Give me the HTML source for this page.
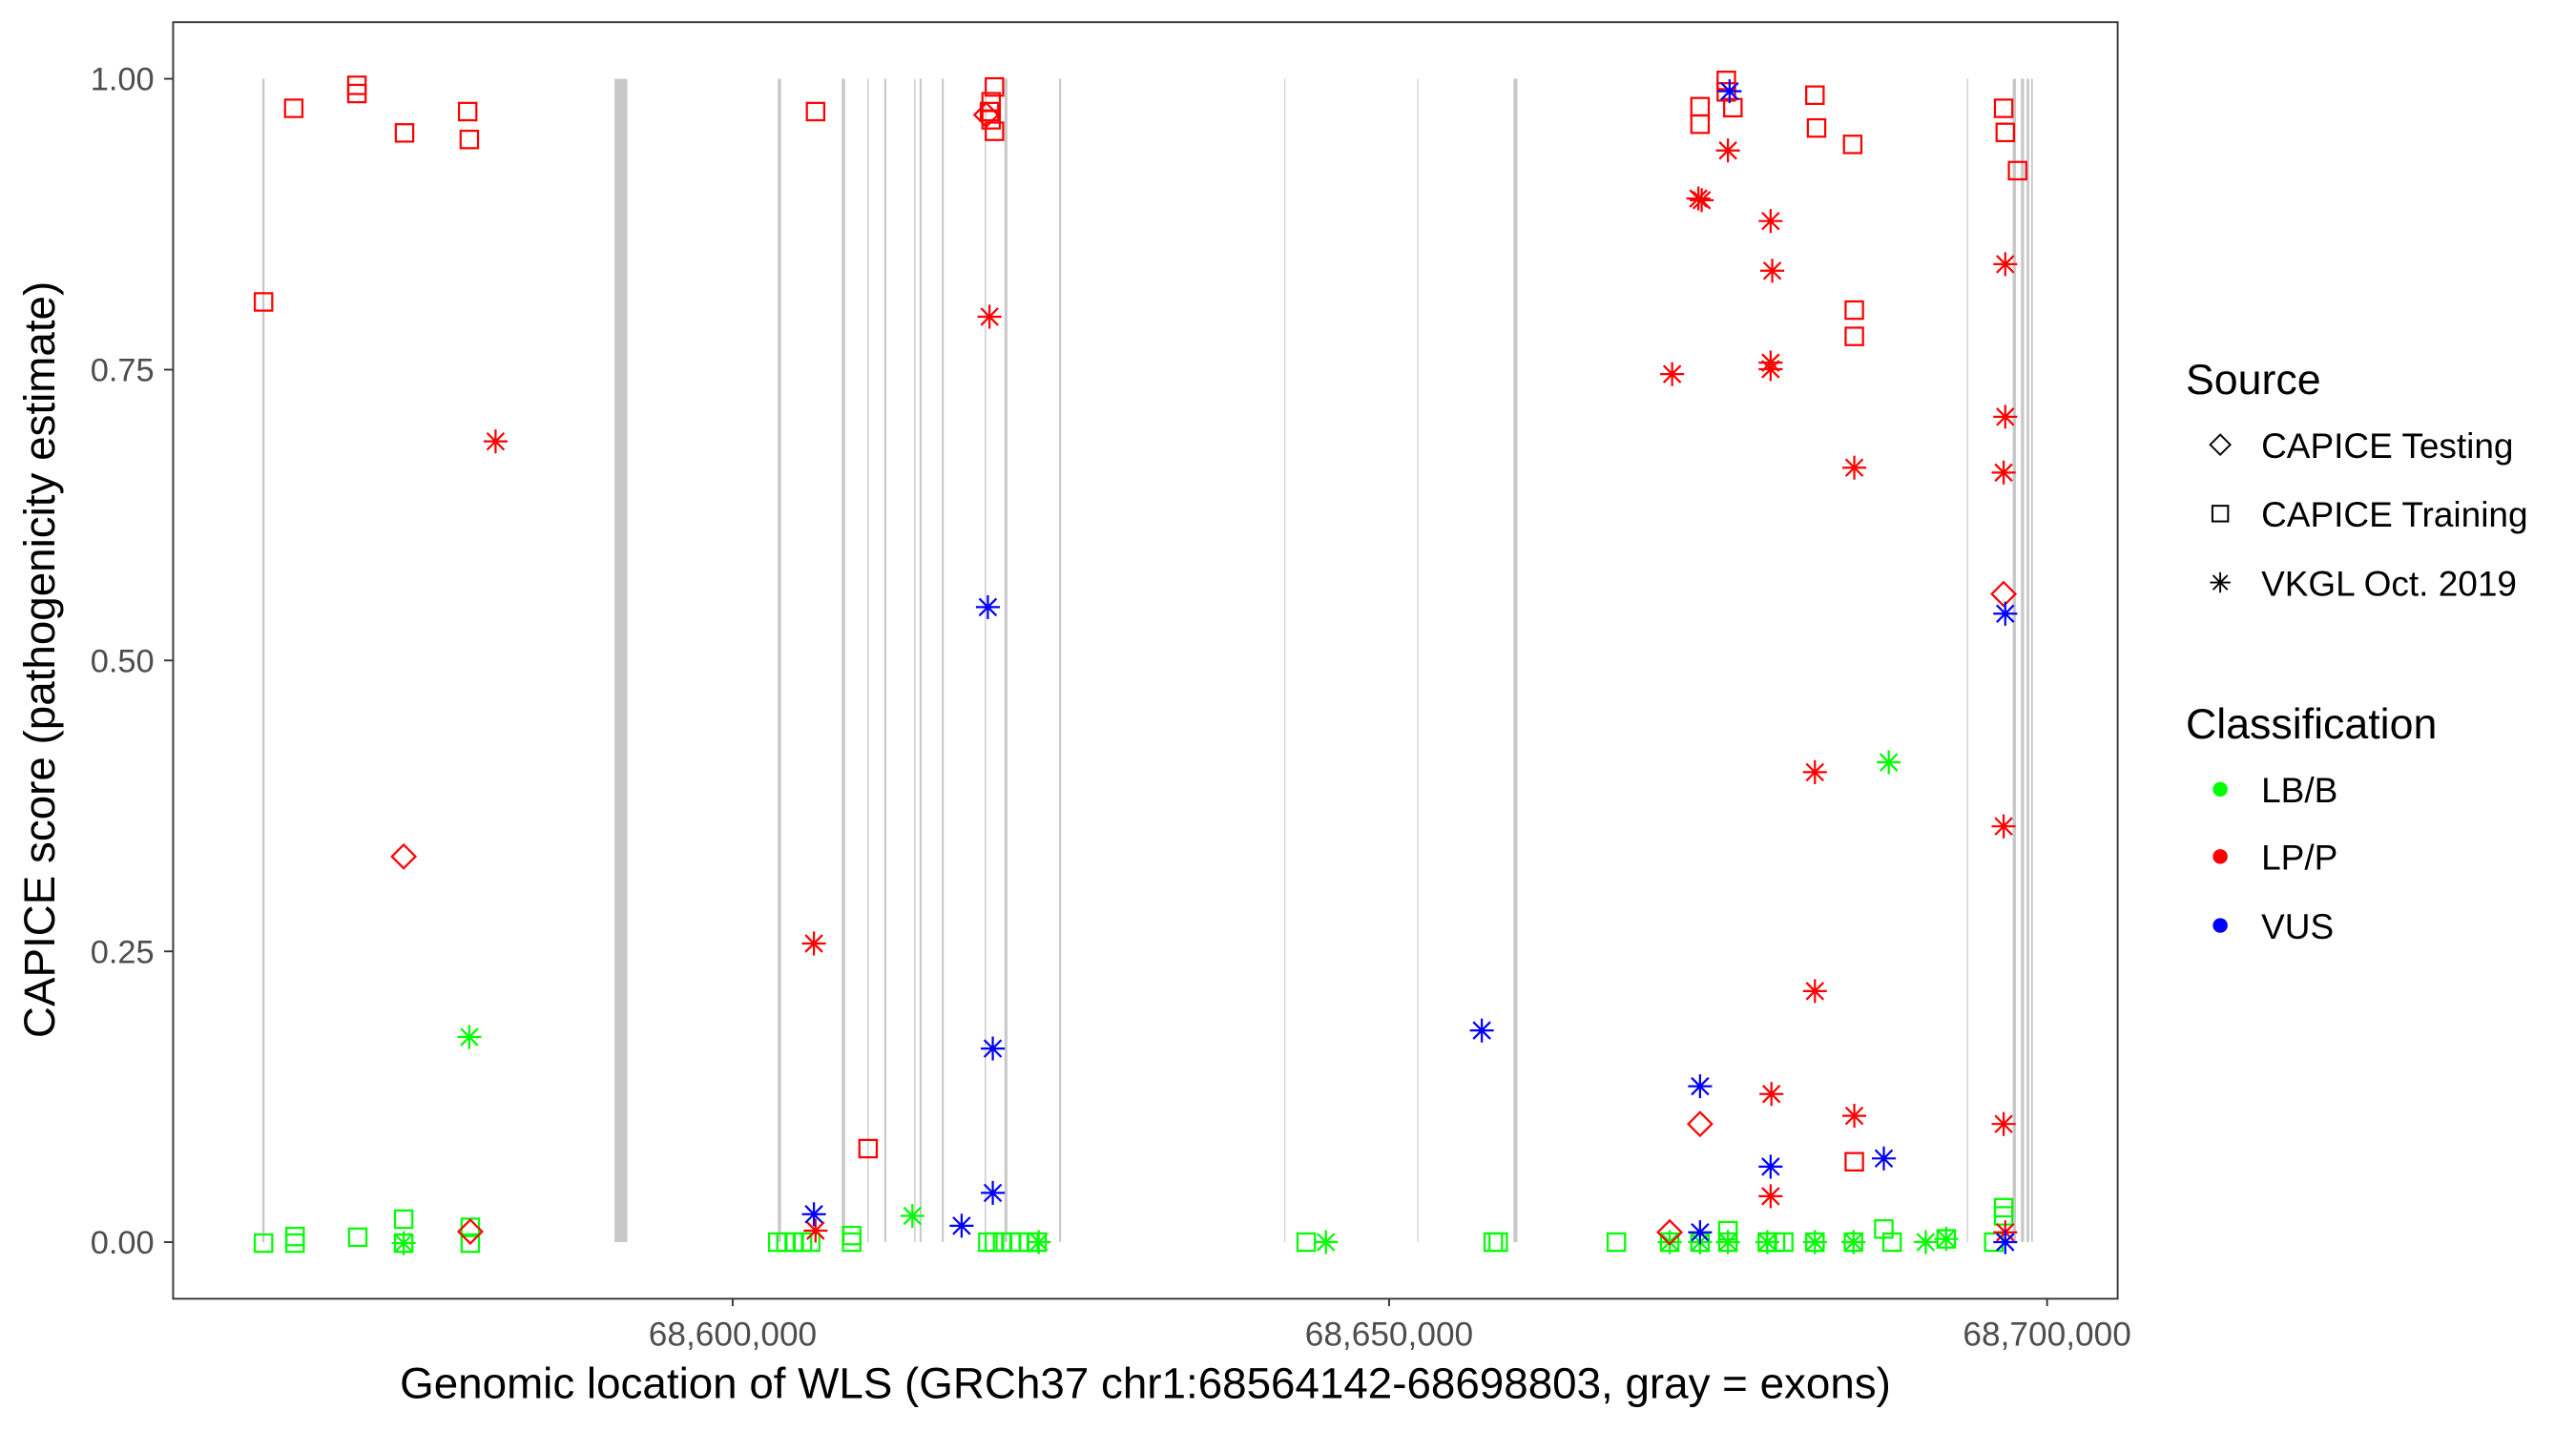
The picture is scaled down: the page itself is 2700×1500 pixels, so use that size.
<!DOCTYPE html>
<html><head><meta charset="utf-8"><style>
html,body{margin:0;padding:0;background:#fff;}
svg{display:block;}
</style></head><body>
<svg width="2700" height="1500" viewBox="0 0 1569.8 872.1" preserveAspectRatio="none" xmlns="http://www.w3.org/2000/svg" font-family="Liberation Sans, sans-serif">
<defs>
<g id="s"><rect x="-5.3" y="-5.3" width="10.6" height="10.6" fill="none" stroke-width="1.3"/></g>
<g id="d"><path d="M0,-7.2 L7.2,0 L0,7.2 L-7.2,0 Z" fill="none" stroke-width="1.3"/></g>
<g id="a"><path d="M0,-7.3V7.3M-7.3,0H7.3M-5.2,-5.2L5.2,5.2M-5.2,5.2L5.2,-5.2" fill="none" stroke-width="1.3"/></g>
</defs>
<rect x="0" y="0" width="1570" height="873" fill="#fff"/>
<g stroke="#c8c8c8" fill="none">
<line x1="160.5" y1="48" x2="160.5" y2="757" stroke-width="1.4"/>
<rect x="374.5" y="48" width="7.8" height="709" fill="#c8c8c8" stroke="none"/>
<line x1="475" y1="48" x2="475" y2="757" stroke-width="2"/>
<line x1="514" y1="48" x2="514" y2="757" stroke-width="2"/>
<line x1="529" y1="48" x2="529" y2="757" stroke-width="0.8"/>
<line x1="539.5" y1="48" x2="539.5" y2="757" stroke-width="1.2"/>
<line x1="557.5" y1="48" x2="557.5" y2="757" stroke-width="0.8"/>
<line x1="561" y1="48" x2="561" y2="757" stroke-width="1.2"/>
<line x1="574.5" y1="48" x2="574.5" y2="757" stroke-width="1.2"/>
<line x1="600.5" y1="48" x2="600.5" y2="757" stroke-width="0.8"/>
<line x1="613" y1="48" x2="613" y2="757" stroke-width="1.8"/>
<line x1="646" y1="48" x2="646" y2="757" stroke-width="1.2"/>
<line x1="783" y1="48" x2="783" y2="757" stroke-width="0.6"/>
<line x1="864" y1="48" x2="864" y2="757" stroke-width="0.6"/>
<line x1="923.5" y1="48" x2="923.5" y2="757" stroke-width="2.4"/>
<line x1="1199" y1="48" x2="1199" y2="757" stroke-width="0.7"/>
<line x1="1227.5" y1="48" x2="1227.5" y2="757" stroke-width="2"/>
<line x1="1232.5" y1="48" x2="1232.5" y2="757" stroke-width="2"/>
<line x1="1235.8" y1="48" x2="1235.8" y2="757" stroke-width="1.6"/>
<line x1="1238.3" y1="48" x2="1238.3" y2="757" stroke-width="1"/>
</g>
<g stroke="#00ff00">
<use href="#s" x="160.6" y="757.6"/><use href="#s" x="179.8" y="753.6"/><use href="#s" x="179.8" y="757.6"/>
<use href="#s" x="218" y="754"/><use href="#s" x="246" y="743"/><use href="#s" x="246" y="757.6"/><use href="#a" x="246" y="757.6"/>
<use href="#s" x="286.6" y="748"/><use href="#s" x="286.6" y="757.6"/>
<use href="#a" x="286" y="632"/>
<use href="#s" x="474" y="757"/><use href="#s" x="479" y="757"/><use href="#s" x="484" y="757"/><use href="#s" x="489" y="757"/><use href="#s" x="494" y="757"/>
<use href="#s" x="519" y="753"/><use href="#s" x="519" y="757"/>
<use href="#a" x="556" y="741"/>
<use href="#s" x="602" y="757"/><use href="#s" x="606" y="757"/><use href="#s" x="611" y="757"/><use href="#s" x="616" y="757"/><use href="#s" x="621" y="757"/><use href="#s" x="627" y="757"/><use href="#s" x="632" y="757"/><use href="#a" x="633" y="757"/>
<use href="#s" x="796" y="757"/><use href="#a" x="808" y="757"/>
<use href="#s" x="910" y="757"/><use href="#s" x="913" y="757"/>
<use href="#s" x="985" y="757"/>
<use href="#s" x="1017.5" y="757"/><use href="#a" x="1017.5" y="757"/>
<use href="#s" x="1036" y="757"/><use href="#a" x="1036" y="757"/>
<use href="#s" x="1053" y="750"/><use href="#s" x="1053" y="757"/><use href="#a" x="1053" y="757"/>
<use href="#s" x="1077" y="757"/><use href="#s" x="1082" y="757"/><use href="#s" x="1087" y="757"/><use href="#a" x="1077" y="757"/>
<use href="#s" x="1106" y="757"/><use href="#a" x="1106" y="757"/>
<use href="#s" x="1129.5" y="757"/><use href="#a" x="1129.5" y="757"/>
<use href="#s" x="1148" y="749"/><use href="#s" x="1153" y="757"/>
<use href="#a" x="1151" y="464.6"/>
<use href="#a" x="1173.5" y="757"/><use href="#a" x="1186" y="755"/><use href="#s" x="1186" y="755"/>
<use href="#s" x="1215" y="757"/>
<use href="#s" x="1221" y="736"/><use href="#s" x="1221" y="741"/>
</g>
<g stroke="#ff0000">
<use href="#s" x="160.6" y="184"/><use href="#s" x="179" y="66"/><use href="#s" x="217.5" y="52"/><use href="#s" x="217.5" y="57"/>
<use href="#s" x="246.5" y="81"/><use href="#s" x="285" y="68"/><use href="#s" x="286" y="85"/>
<use href="#d" x="246" y="522"/><use href="#d" x="286.6" y="750.6"/><use href="#a" x="302" y="269"/>
<use href="#s" x="497" y="68"/><use href="#a" x="496" y="575"/><use href="#a" x="497" y="750"/>
<use href="#s" x="529" y="700"/>
<use href="#s" x="606" y="53"/><use href="#s" x="604" y="62"/><use href="#s" x="603" y="68"/><use href="#s" x="604" y="73"/><use href="#s" x="606" y="80"/><use href="#d" x="601" y="70"/>
<use href="#a" x="603" y="193"/>
<use href="#s" x="1052" y="49"/><use href="#s" x="1052" y="56"/><use href="#s" x="1056" y="65.6"/>
<use href="#s" x="1036" y="65"/><use href="#s" x="1036" y="75.7"/>
<use href="#a" x="1053" y="91.7"/><use href="#a" x="1035" y="121"/><use href="#a" x="1037" y="122"/>
<use href="#a" x="1079" y="134.7"/><use href="#a" x="1080" y="165"/><use href="#a" x="1019" y="228"/>
<use href="#a" x="1079" y="221"/><use href="#a" x="1079" y="225"/>
<use href="#s" x="1106" y="58"/><use href="#s" x="1107" y="78"/><use href="#s" x="1129" y="88"/>
<use href="#s" x="1130" y="189"/><use href="#s" x="1130" y="205"/><use href="#a" x="1130" y="285"/>
<use href="#s" x="1221" y="66"/><use href="#s" x="1222" y="80.7"/><use href="#s" x="1229.5" y="104"/>
<use href="#a" x="1222" y="161"/><use href="#a" x="1222" y="254"/><use href="#a" x="1221" y="288"/>
<use href="#d" x="1221" y="362"/>
<use href="#a" x="1106" y="470.6"/><use href="#a" x="1221" y="503.6"/><use href="#a" x="1106" y="604"/>
<use href="#d" x="1036" y="685"/><use href="#a" x="1079.5" y="666.7"/><use href="#a" x="1130" y="680"/><use href="#a" x="1221" y="685"/>
<use href="#s" x="1130" y="708"/><use href="#a" x="1079" y="729"/>
<use href="#d" x="1017.5" y="751"/><use href="#a" x="1222" y="751"/>
</g>
<g stroke="#0000ff">
<use href="#a" x="496" y="740"/><use href="#a" x="586" y="747"/>
<use href="#a" x="602" y="370"/><use href="#a" x="605" y="639"/><use href="#a" x="605" y="727"/>
<use href="#a" x="903" y="628"/>
<use href="#a" x="1054" y="55.6"/><use href="#a" x="1222" y="374"/>
<use href="#a" x="1036" y="662"/><use href="#a" x="1148" y="706"/><use href="#a" x="1079" y="711"/>
<use href="#a" x="1036" y="751"/><use href="#a" x="1222" y="757"/>
</g>
<rect x="105.5" y="13.5" width="1185" height="778" fill="none" stroke="#333" stroke-width="1.1"/>
<g stroke="#333" stroke-width="1.1">
<line x1="100" y1="48" x2="105" y2="48"/><line x1="100" y1="225.3" x2="105" y2="225.3"/><line x1="100" y1="402.5" x2="105" y2="402.5"/><line x1="100" y1="579.8" x2="105" y2="579.8"/><line x1="100" y1="757" x2="105" y2="757"/>
<line x1="446.5" y1="791" x2="446.5" y2="796"/><line x1="846.5" y1="791" x2="846.5" y2="796"/><line x1="1247.5" y1="791" x2="1247.5" y2="796"/>
</g>
<g fill="#4d4d4d" font-size="20" text-anchor="end">
<text x="94" y="55">1.00</text><text x="94" y="232.3">0.75</text><text x="94" y="409.5">0.50</text><text x="94" y="586.8">0.25</text><text x="94" y="764">0.00</text>
</g>
<g fill="#4d4d4d" font-size="20.5" text-anchor="middle">
<text x="446.5" y="820">68,600,000</text><text x="846.5" y="820">68,650,000</text><text x="1247.5" y="820">68,700,000</text>
</g>
<text x="698" y="852" font-size="26.6" text-anchor="middle" fill="#000">Genomic location of WLS (GRCh37 chr1:68564142-68698803, gray = exons)</text>
<text transform="translate(33,402) rotate(-90)" font-size="26.6" text-anchor="middle" fill="#000">CAPICE score (pathogenicity estimate)</text>
<text x="1332" y="240" font-size="26" fill="#000">Source</text>
<g stroke="#000">
<use href="#d" x="1353" y="271" transform="translate(1353,271) scale(0.85) translate(-1353,-271)"/>
<use href="#s" x="1353" y="313" transform="translate(1353,313) scale(0.9) translate(-1353,-313)"/>
<use href="#a" x="1353" y="355" transform="translate(1353,355) scale(0.85) translate(-1353,-355)"/>
</g>
<g font-size="21.5" fill="#000">
<text x="1378" y="279">CAPICE Testing</text><text x="1378" y="321">CAPICE Training</text><text x="1378" y="363">VKGL Oct. 2019</text>
</g>
<text x="1332" y="450" font-size="26" fill="#000">Classification</text>
<circle cx="1353" cy="481" r="4.5" fill="#00ff00"/><circle cx="1353" cy="522" r="4.5" fill="#ff0000"/><circle cx="1353" cy="564" r="4.5" fill="#0000ff"/>
<g font-size="21.5" fill="#000">
<text x="1378" y="489">LB/B</text><text x="1378" y="530">LP/P</text><text x="1378" y="572">VUS</text>
</g>
</svg>
</body></html>
